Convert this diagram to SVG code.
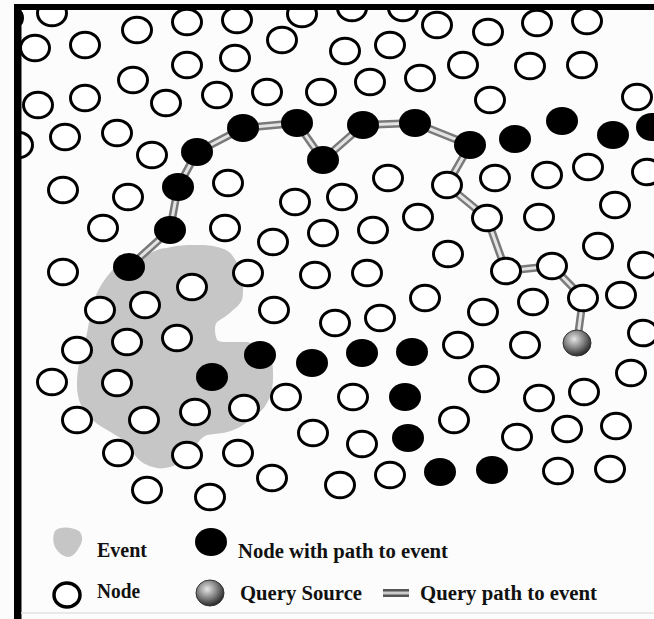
<svg xmlns="http://www.w3.org/2000/svg" xmlns:xlink="http://www.w3.org/1999/xlink" width="654" height="619" viewBox="0 0 654 619">
<style>
.w{fill:#fff;stroke:#000;stroke-width:3}
.b{fill:#000}
.tube1{stroke:#7a7a7a;stroke-width:8;fill:none;stroke-linecap:round;stroke-linejoin:round}
.tube2{stroke:#e4e4e4;stroke-width:3;fill:none;stroke-linecap:round;stroke-linejoin:round}
.lbl{font-family:"Liberation Serif","Times New Roman",serif;font-weight:bold;font-size:20px;fill:#111}
.ev{fill:#c6c6c6}
</style>
<defs>
<ellipse id="wn" class="w" cx="0" cy="0" rx="14.5" ry="12.8"/>
<ellipse id="bn" class="b" cx="0" cy="0" rx="16" ry="14"/>
<radialGradient id="qg" cx="0.4" cy="0.35" r="0.65">
<stop offset="0" stop-color="#e6e6e6"/>
<stop offset="0.5" stop-color="#8a8a8a"/>
<stop offset="1" stop-color="#2a2a2a"/>
</radialGradient>
<ellipse id="qn" cx="0" cy="0" rx="14" ry="13" fill="url(#qg)" stroke="#333" stroke-width="1"/>
</defs>
<rect width="654" height="619" fill="#fbfcfb"/>
<g id="event">
<path class="ev" d="M110,273 C118,262 130,257 143,257 C152,252 160,248 167,248 C178,245 186,245 193,245 C203,245 210,245 217,247 C226,249 230,252 232,255 C237,262 239,266 240,270 C242,277 243,282 243,287 C243,293 243,297 242,300 C239,305 236,308 233,310 C229,314 226,316 223,318 C220,320 218,321 217,322 C215,325 215,327 215,330 C215,334 216,337 217,340 C220,342 223,342 227,342 C235,342 241,342 247,342 C254,343 259,345 263,347 C268,351 271,355 272,360 C273,366 273,371 273,377 C273,385 272,391 270,397 C267,403 265,407 262,410 C258,414 254,417 250,420 C246,423 243,425 240,427 C234,430 229,432 223,433 C217,434 212,434 207,435 C204,436 202,438 200,440 C197,444 195,447 193,450 C190,454 187,457 183,460 C179,463 175,466 170,467 C165,468 161,469 157,468 C151,467 147,465 143,463 C139,460 136,457 133,453 C129,448 126,444 123,440 C118,436 112,433 107,430 C100,426 94,422 90,418 C85,413 82,408 80,403 C78,397 77,392 77,387 C77,381 77,375 78,370 C79,363 80,356 82,350 C84,344 86,339 87,333 C88,327 89,322 90,317 C91,312 92,307 93,303 C95,297 97,292 100,287 C103,282 106,277 110,273 Z"/>
</g>
<g id="connectors">
<polyline class="tube1" points="129,267 170,230 178,187 197,152 243,128 297,123 323,160 363,125 415,123 470,145 447,185 487,218 506,271 552,266 583,298 577,343"/>
<polyline class="tube2" points="129,267 170,230 178,187 197,152 243,128 297,123 323,160 363,125 415,123 470,145 447,185 487,218 506,271 552,266 583,298 577,343"/>
</g>
<g id="nodes">
<g id="n1"><use xlink:href="#wn" x="52" y="13"/></g>
<g id="n2"><use xlink:href="#wn" x="137" y="30"/></g>
<g id="n3"><use xlink:href="#wn" x="187" y="22"/></g>
<g id="n4"><use xlink:href="#wn" x="237" y="20"/></g>
<g id="n5"><use xlink:href="#wn" x="302" y="14"/></g>
<g id="n6"><use xlink:href="#wn" x="352" y="8"/></g>
<g id="n7"><use xlink:href="#wn" x="403" y="8"/></g>
<g id="n8"><use xlink:href="#wn" x="437" y="25"/></g>
<g id="n9"><use xlink:href="#wn" x="488" y="32"/></g>
<g id="n10"><use xlink:href="#wn" x="537" y="23"/></g>
<g id="n11"><use xlink:href="#wn" x="587" y="21"/></g>
<g id="n12"><use xlink:href="#wn" x="35" y="48"/></g>
<g id="n13"><use xlink:href="#wn" x="85" y="45"/></g>
<g id="n14"><use xlink:href="#wn" x="187" y="65"/></g>
<g id="n15"><use xlink:href="#wn" x="235" y="58"/></g>
<g id="n16"><use xlink:href="#wn" x="282" y="40"/></g>
<g id="n17"><use xlink:href="#wn" x="345" y="51"/></g>
<g id="n18"><use xlink:href="#wn" x="390" y="45"/></g>
<g id="n19"><use xlink:href="#wn" x="463" y="65"/></g>
<g id="n20"><use xlink:href="#wn" x="530" y="66"/></g>
<g id="n21"><use xlink:href="#wn" x="582" y="65"/></g>
<g id="n22"><use xlink:href="#wn" x="133" y="80"/></g>
<g id="n23"><use xlink:href="#wn" x="420" y="78"/></g>
<g id="n24"><use xlink:href="#wn" x="490" y="100"/></g>
<g id="n25"><use xlink:href="#wn" x="637" y="97"/></g>
<g id="n26"><use xlink:href="#wn" x="85" y="98"/></g>
<g id="n27"><use xlink:href="#wn" x="38" y="105"/></g>
<g id="n28"><use xlink:href="#wn" x="166" y="103"/></g>
<g id="n29"><use xlink:href="#wn" x="217" y="95"/></g>
<g id="n30"><use xlink:href="#wn" x="267" y="92"/></g>
<g id="n31"><use xlink:href="#wn" x="321" y="92"/></g>
<g id="n32"><use xlink:href="#wn" x="370" y="82"/></g>
<g id="n33"><use xlink:href="#wn" x="65" y="137"/></g>
<g id="n34"><use xlink:href="#wn" x="117" y="133"/></g>
<g id="n35"><use xlink:href="#wn" x="18" y="145"/></g>
<g id="n36"><use xlink:href="#wn" x="152" y="155"/></g>
<g id="n37"><use xlink:href="#wn" x="495" y="178"/></g>
<g id="n38"><use xlink:href="#wn" x="547" y="175"/></g>
<g id="n39"><use xlink:href="#wn" x="588" y="167"/></g>
<g id="n40"><use xlink:href="#wn" x="647" y="172"/></g>
<g id="n41"><use xlink:href="#wn" x="63" y="190"/></g>
<g id="n42"><use xlink:href="#wn" x="128" y="197"/></g>
<g id="n43"><use xlink:href="#wn" x="228" y="183"/></g>
<g id="n44"><use xlink:href="#wn" x="388" y="178"/></g>
<g id="n45"><use xlink:href="#wn" x="295" y="202"/></g>
<g id="n46"><use xlink:href="#wn" x="342" y="197"/></g>
<g id="n47"><use xlink:href="#wn" x="615" y="205"/></g>
<g id="n48"><use xlink:href="#wn" x="103" y="228"/></g>
<g id="n49"><use xlink:href="#wn" x="225" y="228"/></g>
<g id="n50"><use xlink:href="#wn" x="273" y="242"/></g>
<g id="n51"><use xlink:href="#wn" x="323" y="233"/></g>
<g id="n52"><use xlink:href="#wn" x="373" y="230"/></g>
<g id="n53"><use xlink:href="#wn" x="418" y="217"/></g>
<g id="n54"><use xlink:href="#wn" x="539" y="217"/></g>
<g id="n55"><use xlink:href="#wn" x="598" y="246"/></g>
<g id="n56"><use xlink:href="#wn" x="63" y="272"/></g>
<g id="n57"><use xlink:href="#wn" x="248" y="273"/></g>
<g id="n58"><use xlink:href="#wn" x="315" y="275"/></g>
<g id="n59"><use xlink:href="#wn" x="367" y="273"/></g>
<g id="n60"><use xlink:href="#wn" x="448" y="254"/></g>
<g id="n61"><use xlink:href="#wn" x="643" y="265"/></g>
<g id="n62"><use xlink:href="#wn" x="192" y="287"/></g>
<g id="n63"><use xlink:href="#wn" x="425" y="298"/></g>
<g id="n64"><use xlink:href="#wn" x="533" y="302"/></g>
<g id="n65"><use xlink:href="#wn" x="621" y="295"/></g>
<g id="n66"><use xlink:href="#wn" x="100" y="310"/></g>
<g id="n67"><use xlink:href="#wn" x="145" y="305"/></g>
<g id="n68"><use xlink:href="#wn" x="274" y="310"/></g>
<g id="n69"><use xlink:href="#wn" x="335" y="323"/></g>
<g id="n70"><use xlink:href="#wn" x="380" y="318"/></g>
<g id="n71"><use xlink:href="#wn" x="483" y="312"/></g>
<g id="n72"><use xlink:href="#wn" x="77" y="350"/></g>
<g id="n73"><use xlink:href="#wn" x="127" y="342"/></g>
<g id="n74"><use xlink:href="#wn" x="177" y="338"/></g>
<g id="n75"><use xlink:href="#wn" x="458" y="345"/></g>
<g id="n76"><use xlink:href="#wn" x="525" y="345"/></g>
<g id="n77"><use xlink:href="#wn" x="643" y="333"/></g>
<g id="n78"><use xlink:href="#wn" x="52" y="382"/></g>
<g id="n79"><use xlink:href="#wn" x="117" y="383"/></g>
<g id="n80"><use xlink:href="#wn" x="286" y="397"/></g>
<g id="n81"><use xlink:href="#wn" x="353" y="397"/></g>
<g id="n82"><use xlink:href="#wn" x="484" y="379"/></g>
<g id="n83"><use xlink:href="#wn" x="631" y="373"/></g>
<g id="n84"><use xlink:href="#wn" x="539" y="398"/></g>
<g id="n85"><use xlink:href="#wn" x="584" y="392"/></g>
<g id="n86"><use xlink:href="#wn" x="77" y="420"/></g>
<g id="n87"><use xlink:href="#wn" x="144" y="420"/></g>
<g id="n88"><use xlink:href="#wn" x="195" y="412"/></g>
<g id="n89"><use xlink:href="#wn" x="244" y="408"/></g>
<g id="n90"><use xlink:href="#wn" x="313" y="433"/></g>
<g id="n91"><use xlink:href="#wn" x="362" y="444"/></g>
<g id="n92"><use xlink:href="#wn" x="454" y="420"/></g>
<g id="n93"><use xlink:href="#wn" x="517" y="437"/></g>
<g id="n94"><use xlink:href="#wn" x="567" y="429"/></g>
<g id="n95"><use xlink:href="#wn" x="616" y="426"/></g>
<g id="n96"><use xlink:href="#wn" x="118" y="453"/></g>
<g id="n97"><use xlink:href="#wn" x="187" y="455"/></g>
<g id="n98"><use xlink:href="#wn" x="238" y="453"/></g>
<g id="n99"><use xlink:href="#wn" x="272" y="478"/></g>
<g id="n100"><use xlink:href="#wn" x="340" y="485"/></g>
<g id="n101"><use xlink:href="#wn" x="390" y="475"/></g>
<g id="n102"><use xlink:href="#wn" x="558" y="471"/></g>
<g id="n103"><use xlink:href="#wn" x="610" y="469"/></g>
<g id="n104"><use xlink:href="#wn" x="147" y="490"/></g>
<g id="n105"><use xlink:href="#wn" x="210" y="497"/></g>
<g id="p1"><use xlink:href="#wn" x="447" y="185"/></g>
<g id="p2"><use xlink:href="#wn" x="487" y="218"/></g>
<g id="p3"><use xlink:href="#wn" x="506" y="271"/></g>
<g id="p4"><use xlink:href="#wn" x="552" y="266"/></g>
<g id="p5"><use xlink:href="#wn" x="583" y="298"/></g>
<g id="query-source"><use xlink:href="#qn" x="577" y="343"/></g>
<g id="b1"><use xlink:href="#bn" x="129" y="267"/></g>
<g id="b2"><use xlink:href="#bn" x="170" y="230"/></g>
<g id="b3"><use xlink:href="#bn" x="178" y="187"/></g>
<g id="b4"><use xlink:href="#bn" x="197" y="152"/></g>
<g id="b5"><use xlink:href="#bn" x="243" y="128"/></g>
<g id="b6"><use xlink:href="#bn" x="297" y="123"/></g>
<g id="b7"><use xlink:href="#bn" x="323" y="160"/></g>
<g id="b8"><use xlink:href="#bn" x="363" y="125"/></g>
<g id="b9"><use xlink:href="#bn" x="415" y="123"/></g>
<g id="b10"><use xlink:href="#bn" x="470" y="145"/></g>
<g id="b11"><use xlink:href="#bn" x="515" y="139"/></g>
<g id="b12"><use xlink:href="#bn" x="562" y="121"/></g>
<g id="b13"><use xlink:href="#bn" x="613" y="135"/></g>
<g id="b14"><use xlink:href="#bn" x="652" y="127"/></g>
<g id="b15"><use xlink:href="#bn" x="260" y="355"/></g>
<g id="b16"><use xlink:href="#bn" x="312" y="363"/></g>
<g id="b17"><use xlink:href="#bn" x="362" y="353"/></g>
<g id="b18"><use xlink:href="#bn" x="412" y="352"/></g>
<g id="b19"><use xlink:href="#bn" x="212" y="377"/></g>
<g id="b20"><use xlink:href="#bn" x="405" y="397"/></g>
<g id="b21"><use xlink:href="#bn" x="408" y="438"/></g>
<g id="b22"><use xlink:href="#bn" x="440" y="472"/></g>
<g id="b23"><use xlink:href="#bn" x="492" y="470"/></g>
</g>
<g id="frame">
<rect x="0" y="0" width="14" height="619" fill="#fbfcfb"/>
<rect x="0" y="0" width="654" height="4" fill="#fbfcfb"/>
<rect x="14" y="4" width="640" height="6" fill="#000"/>
<rect x="14" y="4" width="7.5" height="615" fill="#000"/>
<ellipse cx="19" cy="18" rx="5" ry="8" fill="#000"/>
<line x1="21" y1="613" x2="654" y2="613" stroke="#e2e4e2" stroke-width="1.5"/>
</g>
<g id="legend">
<g id="legend-event">
<path class="ev" d="M55,531 C60,526 72,527 79,531 C83,535 83,541 80,546 C77,551 74,556 69,557 C64,557 60,554 57,550 C53,546 52,536 55,531 Z"/>
<text class="lbl" x="97" y="557" textLength="50" lengthAdjust="spacingAndGlyphs">Event</text>
</g>
<g id="legend-path-node">
<ellipse cx="211" cy="542" rx="16" ry="14" fill="#000"/>
<text class="lbl" x="238" y="558" textLength="210" lengthAdjust="spacingAndGlyphs">Node with path to event</text>
</g>
<g id="legend-node">
<ellipse cx="67" cy="595" rx="13" ry="12" fill="#fff" stroke="#000" stroke-width="3.5"/>
<text class="lbl" x="97" y="598" textLength="43" lengthAdjust="spacingAndGlyphs">Node</text>
</g>
<g id="legend-query-source">
<use xlink:href="#qn" x="210" y="593"/>
<text class="lbl" x="240" y="600" textLength="122" lengthAdjust="spacingAndGlyphs">Query Source</text>
</g>
<g id="legend-query-path">
<line class="tube1" x1="383" y1="593" x2="409" y2="593" style="stroke-linecap:butt;stroke:#555"/>
<line class="tube2" x1="383" y1="593" x2="409" y2="593" style="stroke-linecap:butt;stroke:#ccc"/>
<text class="lbl" x="420" y="600" textLength="177" lengthAdjust="spacingAndGlyphs">Query path to event</text>
</g>
</g>
</svg>
